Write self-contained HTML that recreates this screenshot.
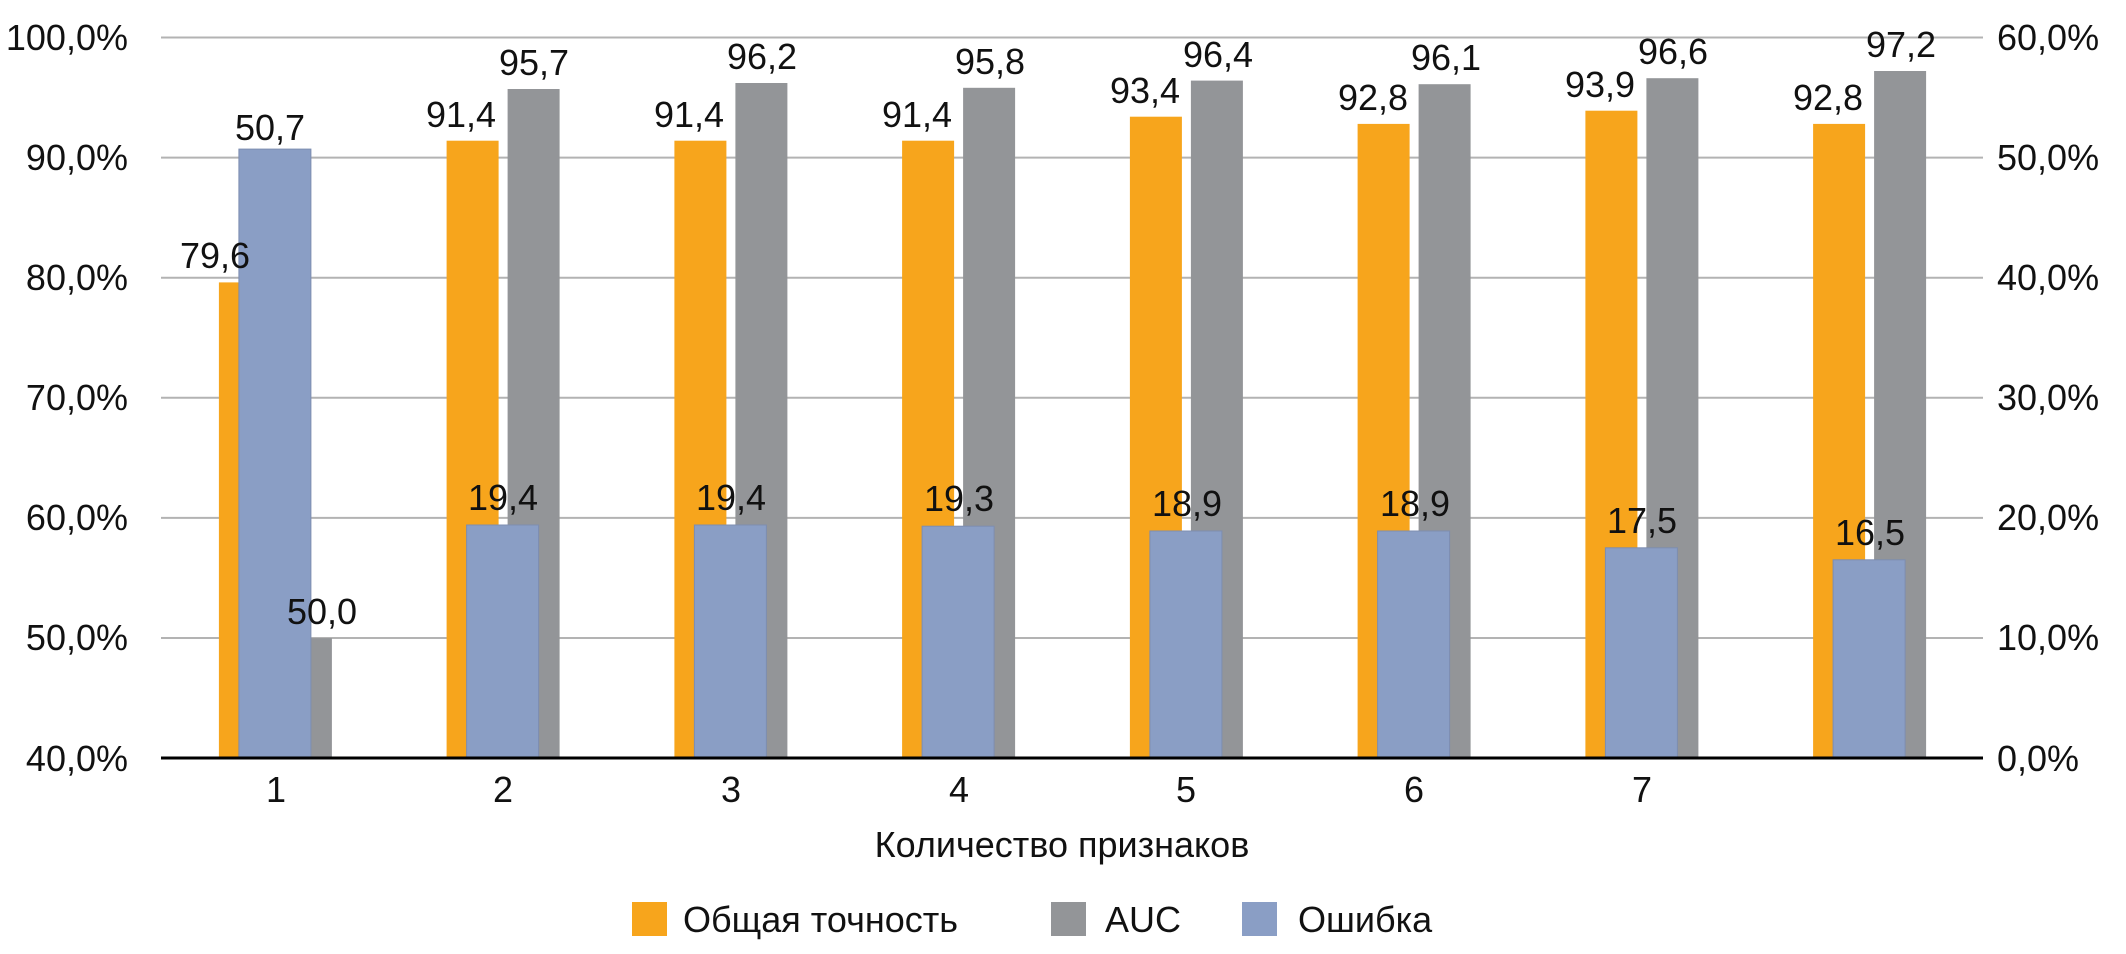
<!DOCTYPE html>
<html><head><meta charset="utf-8"><style>
html,body{margin:0;padding:0;background:#fff;}
svg text{font-family:"Liberation Sans",sans-serif;fill:#111;}
</style></head><body>
<svg width="2126" height="949" xmlns="http://www.w3.org/2000/svg">
<g stroke="#b3b3b3" stroke-width="2">
<line x1="161" x2="1983" y1="37.5" y2="37.5"/>
<line x1="161" x2="1983" y1="157.6" y2="157.6"/>
<line x1="161" x2="1983" y1="277.7" y2="277.7"/>
<line x1="161" x2="1983" y1="397.8" y2="397.8"/>
<line x1="161" x2="1983" y1="517.9" y2="517.9"/>
<line x1="161" x2="1983" y1="638" y2="638"/>
</g>
<g font-size="36" text-anchor="end">
<text x="128" y="50">100,0%</text>
<text x="128" y="170">90,0%</text>
<text x="128" y="290">80,0%</text>
<text x="128" y="410">70,0%</text>
<text x="128" y="530">60,0%</text>
<text x="128" y="650">50,0%</text>
<text x="128" y="771">40,0%</text>
</g>
<g font-size="36" text-anchor="start">
<text x="1997" y="50">60,0%</text>
<text x="1997" y="170">50,0%</text>
<text x="1997" y="290">40,0%</text>
<text x="1997" y="410">30,0%</text>
<text x="1997" y="530">20,0%</text>
<text x="1997" y="650">10,0%</text>
<text x="1997" y="771">0,0%</text>
</g>
<!-- orange -->
<g fill="#F7A51C">
<rect x="218.9" y="282.4" width="52" height="475.6"/>
<rect x="446.6" y="140.7" width="52" height="617.3"/>
<rect x="674.4" y="140.7" width="52" height="617.3"/>
<rect x="902.1" y="140.7" width="52" height="617.3"/>
<rect x="1129.9" y="116.7" width="52" height="641.3"/>
<rect x="1357.6" y="123.9" width="52" height="634.1"/>
<rect x="1585.4" y="110.7" width="52" height="647.3"/>
<rect x="1813.1" y="123.9" width="52" height="634.1"/>
</g>
<!-- gray -->
<g fill="#939598">
<rect x="279.9" y="638.1" width="52" height="119.9"/>
<rect x="507.6" y="89" width="52" height="669"/>
<rect x="735.4" y="83" width="52" height="675"/>
<rect x="963.1" y="87.8" width="52" height="670.2"/>
<rect x="1190.9" y="80.6" width="52" height="677.4"/>
<rect x="1418.6" y="84.2" width="52" height="673.8"/>
<rect x="1646.4" y="78.2" width="52" height="679.8"/>
<rect x="1874.1" y="71" width="52" height="687"/>
</g>
<!-- blue -->
<g fill="#8A9EC5" stroke="#7d8db0" stroke-width="1">
<rect x="238.9" y="149.1" width="72" height="608.9"/>
<rect x="466.6" y="525" width="72" height="233"/>
<rect x="694.4" y="525" width="72" height="233"/>
<rect x="922.1" y="526.2" width="72" height="231.8"/>
<rect x="1149.9" y="531" width="72" height="227"/>
<rect x="1377.6" y="531" width="72" height="227"/>
<rect x="1605.4" y="547.8" width="72" height="210.2"/>
<rect x="1833.1" y="559.8" width="72" height="198.2"/>
</g>
<line x1="161" x2="1983" y1="758" y2="758" stroke="#000" stroke-width="3"/>
<g font-size="36" text-anchor="middle">
<text x="215" y="268">79,6</text>
<text x="270" y="140">50,7</text>
<text x="322" y="624">50,0</text>
<text x="461" y="127">91,4</text><text x="534" y="75">95,7</text><text x="503" y="510">19,4</text>
<text x="689" y="127">91,4</text><text x="762" y="69">96,2</text><text x="731" y="510">19,4</text>
<text x="917" y="127">91,4</text><text x="990" y="74">95,8</text><text x="959" y="511">19,3</text>
<text x="1145" y="103">93,4</text><text x="1218" y="67">96,4</text><text x="1187" y="516">18,9</text>
<text x="1373" y="110">92,8</text><text x="1446" y="70">96,1</text><text x="1415" y="516">18,9</text>
<text x="1600" y="97">93,9</text><text x="1673" y="64">96,6</text><text x="1642" y="533">17,5</text>
<text x="1828" y="110">92,8</text><text x="1901" y="57">97,2</text><text x="1870" y="545">16,5</text>
</g>
<g font-size="36" text-anchor="middle">
<text x="276" y="802">1</text>
<text x="503" y="802">2</text>
<text x="731" y="802">3</text>
<text x="959" y="802">4</text>
<text x="1186" y="802">5</text>
<text x="1414" y="802">6</text>
<text x="1642" y="802">7</text>
<text x="1062" y="857">Количество признаков</text>
</g>
<rect x="632" y="902" width="35" height="34" fill="#F7A51C"/>
<rect x="1051" y="902" width="35" height="34" fill="#939598"/>
<rect x="1242" y="902" width="35" height="34" fill="#8A9EC5"/>
<g font-size="36">
<text x="683" y="932">Общая точность</text>
<text x="1105" y="932">AUC</text>
<text x="1298" y="932">Ошибка</text>
</g>
</svg>
</body></html>
